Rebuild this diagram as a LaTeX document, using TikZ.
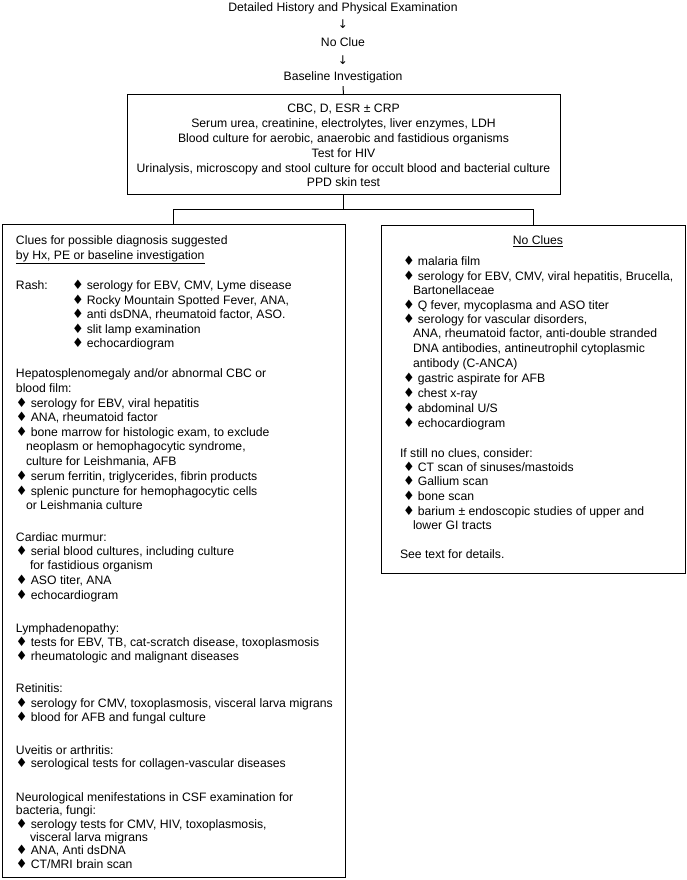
\documentclass[tikz,border=0pt]{standalone}
\usepackage{fontspec}
\setmainfont{Liberation Sans}
\newfontfamily\dvfont{DejaVu Sans}
\newcommand\dmd{{\dvfont\fontsize{13}{14}\selectfont ♦}\hspace{3.2pt}}
\newcommand\tline[4]{\node[txt,anchor=base west] (#1) at (#2,#3+4.5) {#4};}
\newcommand\ctext[4]{\node[txt,anchor=base] (#1) at (#2,#3+4.5) {#4};}
\begin{document}
\begin{tikzpicture}[x=1pt,y=-1pt,
  txt/.style={inner sep=0pt, outer sep=0pt, font=\fontsize{12.2}{14.6}\selectfont},
  box/.style={draw, line width=1pt, inner sep=0pt, outer sep=0pt, anchor=north west},
  conn/.style={line width=1pt}]
\useasboundingbox[fill=white] (0,0) rectangle (687,880);

% top sequence
\ctext{hist}{343}{7}{Detailed History and Physical Examination}
\ctext{arra}{343}{24}{{\dvfont\fontsize{12}{12}\selectfont ↓}}
\ctext{noclue}{343}{42}{No Clue}
\ctext{arrb}{343}{60}{{\dvfont\fontsize{12}{12}\selectfont ↓}}
\ctext{basel}{343}{76}{Baseline Investigation}

% top box
\node[box, minimum width=433pt, minimum height=99pt] (topbox) at (127,95) {};
\ctext{t1}{343.5}{108}{CBC, D, ESR ± CRP}
\ctext{t2}{343.5}{123}{Serum urea, creatinine, electrolytes, liver enzymes, LDH}
\ctext{t3}{343.5}{138}{Blood culture for aerobic, anaerobic and fastidious organisms}
\ctext{t4}{343.5}{153}{Test for HIV}
\ctext{t5}{343.5}{168}{Urinalysis, microscopy and stool culture for occult blood and bacterial culture}
\ctext{t6}{343.5}{182}{PPD skin test}

% lower boxes
\node[box, minimum width=343pt, minimum height=653pt] (leftbox) at (2.5,224) {};
\node[box, minimum width=303.5pt, minimum height=347.5pt] (rightbox) at (381.5,225.5) {};

% connectors
\draw[conn] ([yshift=-3pt]basel.south) -- (topbox.north);
\coordinate (jl) at (173,209);
\coordinate (jr) at (533,209);
\draw[conn] (topbox.south) -- (topbox.south |- jl);
\draw[conn] (leftbox.north -| jl) |- (jr) -- (rightbox.north -| jr);

% left box text
\tline{l1}{16}{240}{Clues for possible diagnosis suggested}
\tline{l2}{16}{255}{\underline{by Hx, PE or baseline investigation}}
\tline{l3}{16}{285}{Rash:}
\tline{l3a}{72}{285}{\dmd serology for EBV, CMV, Lyme disease}
\tline{l4}{72}{299.6}{\dmd Rocky Mountain Spotted Fever, ANA,}
\tline{l5}{72}{314.2}{\dmd anti dsDNA, rheumatoid factor, ASO.}
\tline{l6}{72}{328.8}{\dmd slit lamp examination}
\tline{l7}{72}{343.4}{\dmd echocardiogram}
\tline{l9}{16}{373}{Hepatosplenomegaly and/or abnormal CBC or}
\tline{l10}{16}{388}{blood film:}
\tline{l11}{16}{403}{\dmd serology for EBV, viral hepatitis}
\tline{l12}{16}{417}{\dmd ANA, rheumatoid factor}
\tline{l13}{16}{432}{\dmd bone marrow for histologic exam, to exclude}
\tline{l14}{26}{446}{neoplasm or hemophagocytic syndrome,}
\tline{l15}{26}{461}{culture for Leishmania, AFB}
\tline{l16}{16}{476}{\dmd serum ferritin, triglycerides, fibrin products}
\tline{l17}{16}{491}{\dmd splenic puncture for hemophagocytic cells}
\tline{l18}{26}{505}{or Leishmania culture}
\tline{l20}{16}{537}{Cardiac murmur:}
\tline{l21}{16}{551}{\dmd serial blood cultures, including culture}
\tline{l22}{30}{565}{for fastidious organism}
\tline{l23}{16}{580}{\dmd ASO titer, ANA}
\tline{l24}{16}{595}{\dmd echocardiogram}
\tline{l26}{16}{628}{Lymphadenopathy:}
\tline{l27}{16}{642}{\dmd tests for EBV, TB, cat-scratch disease, toxoplasmosis}
\tline{l28}{16}{656}{\dmd rheumatologic and malignant diseases}
\tline{l30}{16}{688}{Retinitis:}
\tline{l31}{16}{703}{\dmd serology for CMV, toxoplasmosis, visceral larva migrans}
\tline{l32}{16}{717}{\dmd blood for AFB and fungal culture}
\tline{l34}{16}{750}{Uveitis or arthritis:}
\tline{l35}{16}{763}{\dmd serological tests for collagen-vascular diseases}
\tline{l37}{16}{797}{Neurological menifestations in CSF examination for}
\tline{l38}{16}{810}{bacteria, fungi:}
\tline{l39}{16}{824}{\dmd serology tests for CMV, HIV, toxoplasmosis,}
\tline{l40}{30}{837}{visceral larva migrans}
\tline{l41}{16}{850}{\dmd ANA, Anti dsDNA}
\tline{l42}{16}{864}{\dmd CT/MRI brain scan}

% right box text
\ctext{r0}{538}{240}{\underline{No Clues}}
\tline{r1}{403}{261}{\dmd malaria film}
\tline{r2}{403}{276}{\dmd serology for EBV, CMV, viral hepatitis, Brucella,}
\tline{r3}{413}{290}{Bartonellaceae}
\tline{r4}{403}{305}{\dmd Q fever, mycoplasma and ASO titer}
\tline{r5}{403}{319}{\dmd serology for vascular disorders,}
\tline{r6}{413}{333}{ANA, rheumatoid factor, anti-double stranded}
\tline{r7}{413}{348}{DNA antibodies, antineutrophil cytoplasmic}
\tline{r8}{413}{363}{antibody (C-ANCA)}
\tline{r9}{403}{378}{\dmd gastric aspirate for AFB}
\tline{r10}{403}{393}{\dmd chest x-ray}
\tline{r11}{403}{408}{\dmd abdominal U/S}
\tline{r12}{403}{423}{\dmd echocardiogram}
\tline{r14}{400}{453}{If still no clues, consider:}
\tline{r15}{403}{467}{\dmd CT scan of sinuses/mastoids}
\tline{r16}{403}{481}{\dmd Gallium scan}
\tline{r17}{403}{496}{\dmd bone scan}
\tline{r18}{403}{511}{\dmd barium ± endoscopic studies of upper and}
\tline{r19}{413}{525}{lower GI tracts}
\tline{r21}{400}{554}{See text for details.}
\end{tikzpicture}
\end{document}
